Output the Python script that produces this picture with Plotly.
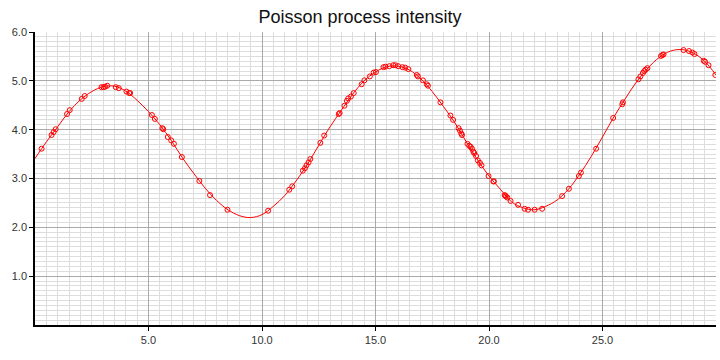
import plotly.graph_objects as go

# Intensity curve
curve_t = [0, 0.5, 1.0, 1.5, 2.0, 2.5, 3.0, 3.5, 4.0, 4.5, 5.0, 5.5, 6.0, 6.5, 7.0, 7.5,
           8.0, 8.5, 9.0, 9.5, 10.0, 10.5, 11.0, 11.5, 12.0, 12.5, 13.0, 13.5, 14.0, 14.5,
           15.0, 15.5, 16.0, 16.5, 17.0, 17.5, 18.0, 18.5, 19.0, 19.5, 20.0, 20.5, 21.0,
           21.5, 22.0, 22.5, 23.0, 23.5, 24.0, 24.5, 25.0, 25.5, 26.0, 26.5, 27.0, 27.5,
           28.0, 28.5, 29.0, 29.5, 30.0]
curve_v = [3.41, 3.75, 4.06, 4.37, 4.61, 4.78, 4.88, 4.89, 4.79, 4.60, 4.37, 4.10, 3.78,
           3.42, 3.10, 2.80, 2.55, 2.36, 2.24, 2.20, 2.26, 2.43, 2.65, 2.95, 3.29, 3.68,
           4.06, 4.40, 4.73, 5.00, 5.18, 5.29, 5.30, 5.22, 5.04, 4.78, 4.47, 4.14, 3.75,
           3.38, 3.05, 2.78, 2.52, 2.40, 2.36, 2.43, 2.56, 2.78, 3.09, 3.45, 3.85, 4.26,
           4.63, 4.98, 5.26, 5.48, 5.61, 5.64, 5.57, 5.40, 5.12]

# Event points
event_t = [0.29, 0.73, 0.82, 0.91, 1.41, 1.53, 2.06, 2.19, 2.93, 3.02, 3.09, 3.18, 3.56,
           3.69, 4.03, 4.15, 4.19, 5.15, 5.28, 5.61, 5.65, 5.85, 6.00, 6.12, 6.47, 7.24,
           7.71, 8.48, 10.27, 11.20, 11.33, 11.80, 11.89, 11.96, 12.05, 12.13, 12.57,
           12.74, 13.38, 13.42, 13.63, 13.74, 13.80, 13.92, 14.04, 14.39, 14.51, 14.75,
           14.92, 15.02, 15.35, 15.44, 15.61, 15.78, 15.88, 16.00, 16.19, 16.31, 16.45,
           16.82, 16.87, 17.09, 17.26, 17.31, 17.86, 18.30, 18.42, 18.66, 18.72, 18.78,
           18.81, 19.05, 19.13, 19.19, 19.25, 19.31, 19.35, 19.43, 19.51, 19.60, 19.67,
           19.98, 20.19, 20.22, 20.69, 20.72, 20.75, 20.81, 20.95, 21.28, 21.57, 21.72,
           22.01, 22.34, 23.22, 23.52, 23.96, 24.05, 24.72, 25.47, 25.87, 25.90, 26.58,
           26.67, 26.78, 26.84, 26.90, 26.98, 27.58, 27.64, 27.69, 28.57, 28.81, 28.96,
           29.05, 29.46, 29.52, 29.67, 29.97]
event_v = [3.61, 3.89, 3.95, 4.01, 4.32, 4.40, 4.63, 4.69, 4.87, 4.87, 4.88, 4.90, 4.87,
           4.85, 4.78, 4.75, 4.75, 4.30, 4.22, 4.03, 4.01, 3.85, 3.78, 3.71, 3.44, 2.95,
           2.66, 2.36, 2.34, 2.77, 2.84, 3.16, 3.21, 3.27, 3.33, 3.40, 3.73, 3.88, 4.32,
           4.34, 4.49, 4.59, 4.64, 4.68, 4.75, 4.93, 5.01, 5.09, 5.17, 5.18, 5.28, 5.29,
           5.30, 5.32, 5.32, 5.30, 5.28, 5.27, 5.24, 5.12, 5.09, 5.01, 4.93, 4.90, 4.56,
           4.29, 4.20, 4.03, 3.98, 3.92, 3.89, 3.71, 3.67, 3.65, 3.61, 3.55, 3.52, 3.46,
           3.37, 3.32, 3.27, 3.05, 2.94, 2.94, 2.66, 2.65, 2.63, 2.61, 2.54, 2.46, 2.38,
           2.36, 2.36, 2.38, 2.64, 2.79, 3.05, 3.12, 3.61, 4.24, 4.52, 4.56, 5.03, 5.09,
           5.16, 5.20, 5.23, 5.26, 5.51, 5.53, 5.54, 5.63, 5.61, 5.58, 5.55, 5.41, 5.39,
           5.32, 5.12]

x_ticks = [5, 10, 15, 20, 25]
y_ticks = [1, 2, 3, 4, 5, 6]

fig = go.Figure()
fig.add_trace(go.Scatter(x=curve_t, y=curve_v, mode="lines", line=dict(color="red", width=1, shape="spline"),
                         hoverinfo="skip", showlegend=False))
fig.add_trace(go.Scatter(x=event_t, y=event_v, mode="markers",
                         marker=dict(symbol="circle-open", color="red", size=5, line=dict(width=1, color="red")),
                         showlegend=False, cliponaxis=True))

fig.update_layout(
    width=720, height=360,
    margin=dict(l=35, r=4, t=32, b=35, autoexpand=False),
    paper_bgcolor="white", plot_bgcolor="white",
    font=dict(family="Liberation Sans, Arial, sans-serif", size=11, color="#333"),
    title=dict(text="Poisson process intensity", x=0.5, xanchor="center", y=0.972, yanchor="top",
               font=dict(size=18, color="#111")),
)
fig.update_xaxes(range=[0, 30], tickmode="array", tickvals=x_ticks, tickformat=".1f",
                 automargin=False,
                 showline=True, linecolor="black", linewidth=1.5,
                 ticks="outside", ticklen=4, tickcolor="black",
                 showgrid=True, gridcolor="#aaaaaa", gridwidth=1, zeroline=False,
                 minor=dict(dtick=0.5, tick0=0, showgrid=True, gridcolor="#dddddd", gridwidth=1, ticks=""))
fig.update_yaxes(range=[0, 6], tickmode="array", tickvals=y_ticks, tickformat=".1f",
                 automargin=False,
                 showline=True, linecolor="black", linewidth=1.5,
                 ticks="outside", ticklen=4, tickcolor="black",
                 showgrid=True, gridcolor="#aaaaaa", gridwidth=1, zeroline=False,
                 minor=dict(dtick=0.1, tick0=0, showgrid=True, gridcolor="#dddddd", gridwidth=1, ticks=""))

fig.write_html("out.html", config={"displayModeBar": False},
               post_script="document.body.style.margin='0';document.body.style.padding='0';")
